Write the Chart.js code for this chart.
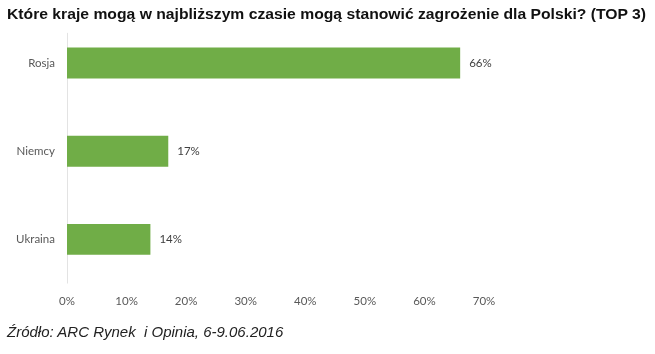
<!DOCTYPE html>
<html>
<head>
<meta charset="utf-8">
<script src="https://cdn.jsdelivr.net/npm/chart.js@4"></script>
<style>
  html, body { margin: 0; padding: 0; background: #fff; }
  #wrap { position: relative; width: 655px; height: 354px; overflow: hidden; }
  #title { position: absolute; left: 7px; top: 5px; font: bold 15px "Liberation Sans", Arial, sans-serif; color: #111; white-space: nowrap; transform-origin: 0 0; }
  #source { position: absolute; left: 7px; top: 323px; font: italic 15px "Liberation Sans", Arial, sans-serif; color: #222; white-space: pre; }
  canvas { position: absolute; left: 0; top: 0; }
</style>
</head>
<body>
<div id="wrap">
  <canvas id="c" width="655" height="354"></canvas>
  <div id="title">Które kraje mogą w najbliższym czasie mogą stanowić zagrożenie dla Polski? (TOP 3)</div>
  <div id="source">Źródło: ARC Rynek  i Opinia, 6-9.06.2016</div>
</div>
<script>
const categories = ["Rosja", "Niemcy", "Ukraina"];
const values = [66, 17, 14];
const xTicks = [0, 10, 20, 30, 40, 50, 60, 70];

// fit title to reference width
(function(){
  const t = document.getElementById('title');
  const w = t.getBoundingClientRect().width;
  t.style.transform = 'scaleX(' + (639 / w) + ')';
})();

const labelPlugin = {
  id: 'valueLabels',
  afterDatasetsDraw(chart) {
    const ctx = chart.ctx;
    const meta = chart.getDatasetMeta(0);
    ctx.save();
    ctx.font = '11.5px Lato, "Open Sans", sans-serif';
    ctx.fillStyle = '#404040';
    ctx.textBaseline = 'middle';
    ctx.textAlign = 'left';
    meta.data.forEach((bar, i) => {
      ctx.fillText(values[i] + '%', bar.x + 9, bar.y);
    });
    ctx.restore();
  }
};

const axisLinePlugin = {
  id: 'axisLine',
  beforeDatasetsDraw(chart) {
    const ctx = chart.ctx;
    const a = chart.chartArea;
    ctx.save();
    ctx.strokeStyle = '#e3e3e3';
    ctx.lineWidth = 1;
    ctx.beginPath();
    ctx.moveTo(Math.round(a.left) + 0.5, a.top + 14);
    ctx.lineTo(Math.round(a.left) + 0.5, a.bottom);
    ctx.stroke();
    ctx.restore();
  }
};

new Chart(document.getElementById('c'), {
  type: 'bar',
  data: {
    labels: categories,
    datasets: [{
      data: values,
      backgroundColor: '#70AD47',
      borderWidth: 0,
      categoryPercentage: 1,
      barPercentage: 0.35
    }]
  },
  options: {
    indexAxis: 'y',
    responsive: false,
    animation: false,
    events: [],
    layout: { padding: { top: 16.5, right: 171, left: 0, bottom: 0 } },
    plugins: { legend: { display: false }, tooltip: { enabled: false } },
    scales: {
      x: {
        min: 0, max: 70,
        afterBuildTicks(scale) { scale.ticks = xTicks.map(v => ({ value: v })); },
        afterFit(scale) { scale.height = 70.5; },
        grid: { display: false, drawTicks: false },
        border: { display: false },
        ticks: {
          padding: 11,
          color: '#595959',
          font: { family: 'Lato, "Open Sans", sans-serif', size: 11.5 },
          callback: v => v + '%'
        }
      },
      y: {
        afterFit(scale) { scale.width = 67; },
        grid: { display: false, drawTicks: false },
        border: { display: false },
        ticks: {
          padding: 12,
          color: '#595959',
          font: { family: 'Lato, "Open Sans", sans-serif', size: 11.5 }
        }
      }
    }
  },
  plugins: [labelPlugin, axisLinePlugin]
});
</script>
</body>
</html>
